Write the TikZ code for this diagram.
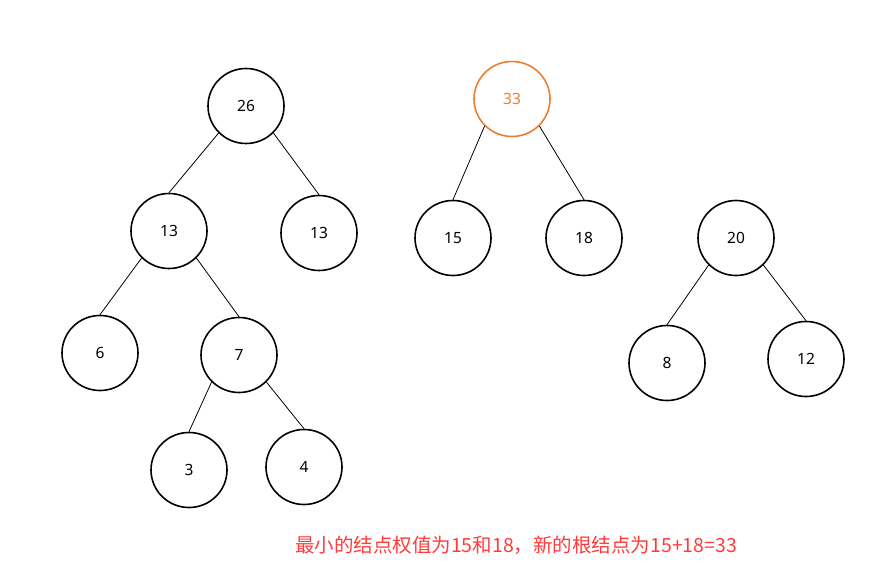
\documentclass[tikz,border=0pt]{standalone}
\usepackage{fontspec}
\setmainfont{Noto Sans}
\newfontfamily\cjk{Noto Sans CJK SC}
\usetikzlibrary{shapes.geometric}
\definecolor{orng}{HTML}{ED7D31}
\definecolor{redtxt}{HTML}{FF3B3B}
\begin{document}
\begin{tikzpicture}[x=1pt,y=-1pt,
  tnode/.style={ellipse,draw=black,line width=1.6pt,minimum width=76pt,minimum height=75pt,inner sep=0pt,font=\fontsize{15.5}{18}\selectfont},
  hnode/.style={tnode,draw=orng,text=orng},
  edge/.style={draw=black,line width=0.8pt}]
\useasboundingbox (0,0) rectangle (881,588);
\node[tnode] (n26) at (246,106) {26};
\node[tnode] (n13a) at (169,231) {13};
\node[tnode] (n13b) at (319,233) {13};
\node[tnode] (n6) at (100,353) {6};
\node[tnode] (n7) at (239,355) {7};
\node[tnode] (n3) at (189,470) {3};
\node[tnode] (n4) at (304,467) {4};
\node[hnode] (n33) at (512,99) {33};
\node[tnode] (n15) at (453,238) {15};
\node[tnode] (n18) at (584,238) {18};
\node[tnode] (n20) at (736,238) {20};
\node[tnode] (n8) at (667,363) {8};
\node[tnode] (n12) at (806,359) {12};
\draw[edge] (n26.south west) -- (n13a.north);
\draw[edge] (n26.south east) -- (n13b.north);
\draw[edge] (n13a.south west) -- (n6.north);
\draw[edge] (n13a.south east) -- (n7.north);
\draw[edge] (n7.south west) -- (n3.north);
\draw[edge] (n7.south east) -- (n4.north);
\draw[edge] (n33.south west) -- (n15.north);
\draw[edge] (n33.south east) -- (n18.north);
\draw[edge] (n20.south west) -- (n8.north);
\draw[edge] (n20.south east) -- (n12.north);
\node[text=redtxt,font=\cjk\fontsize{19.5}{22}\selectfont,inner sep=0pt] (cap) at (516,545) {最小的结点权值为15和18，新的根结点为15+18=33};
\end{tikzpicture}
\end{document}
